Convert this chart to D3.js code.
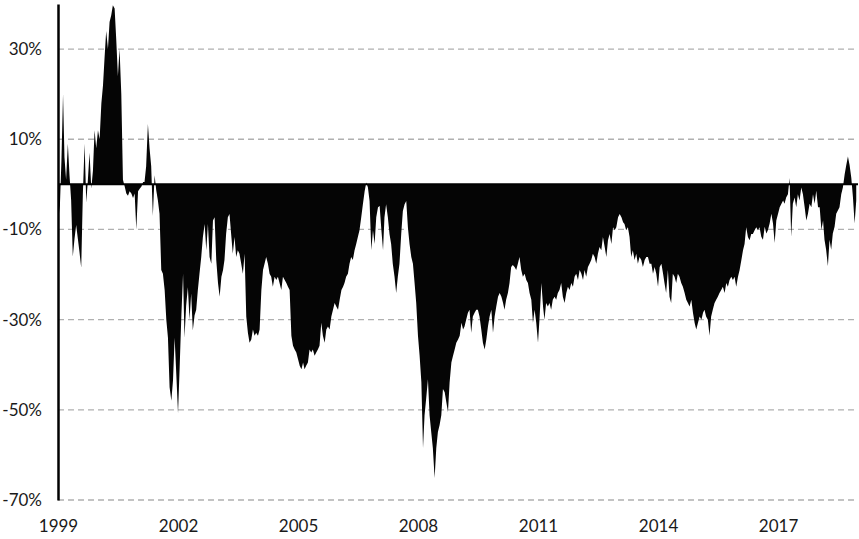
<!DOCTYPE html>
<html>
<head>
<meta charset="utf-8">
<script src="https://cdn.jsdelivr.net/npm/d3@7"></script>
<style>
  body { margin: 0; background: #fff; }
  svg { display: block; }
  text { font-family: Lato, "Open Sans", sans-serif; }
</style>
</head>
<body>
<svg id="chart" width="859" height="539"></svg>
<script>
// ---- Data (semi-monthly observations, 1st and 16th of each month, from Jan 1999) ----
const startYear = 1999;
const endYear = 2019;
const tickYears = [1999, 2002, 2005, 2008, 2011, 2014, 2017];
const yTickValues = [30, 10, -10, -30, -50, -70];
const yDomain = [-70, 40];

const values = [
  // 1999 - mid 2002
  -2, -6.4, 5, 20, 6, 1, 9, 2, -3.5, -16,
  -12, -9, -12, -15, -18.5, -2, 9, -4, 1, 7,
  -1, 3, 12, 8, 12, 10, 18, 22, 28, 34,
  30, 36, 37.5, 39.7, 39, 32, 24, 30, 20, 1,
  -0.5, -2, -2.5, -1.5, -2, -3, -2, -10, -1.5, -1,
  -0.5, 0.5, 0.5, 4, 13.4, 8, 4, -7, 2, -1.3,
  -3.5, -6.5, -19, -19.8, -23.5, -30, -34, -45, -48, -43.5,
  -34, -42, -50.8, -40.5, -28.7, -19.8, -34, -27, -22.8, -30,
  -24.2, -32.4, -29, -27.8, -23.4, -19.8,
  // 2002 - 2005
  -16.1, -11.7, -8.8, -14.6, -8.8, -16.1, -17.6, -8, -7.3, -16.8,
  -21.9, -24.9, -20.5, -19, -16.8, -11, -7.3, -6.6, -11, -15.4,
  -11.7, -16.1, -14.6, -15.4, -17.6, -19.8, -15.4, -29.3, -32.9, -35.1,
  -34.4, -32.2, -33.6, -32.9, -33.6, -32.2, -23.4, -19, -17.6, -16.1,
  -17.6, -19.8, -20.5, -22.7, -20.5, -21.2, -20.5, -21.9, -23.4, -20.5,
  -21.2, -21.9, -22.7, -23.4, -33.6, -35.8, -36.6, -37.3, -38.8, -40.2,
  -41, -39.5, -41, -40.2, -39.5, -36.6, -37.3, -36.6, -38, -37.3,
  -36.6, -35.8, -30.7, -33.6, -35.1, -32.2, -31.5, -32.2, -29.3, -27.8,
  -26.3, -27.1, -27.8,
  // 2005 - 2009
  -25.6, -23.4, -22.7, -21.9, -20.5, -19.8, -17.6, -16.1, -16.8, -14.6,
  -13.2, -11.7, -10.2, -7.3, -4.4, -1.5, 0.4, -0.7, -3.7, -14.6,
  -10.2, -13.2, -7.3, -5.1, -4.8, -10.2, -14.6, -7.3, -4.4, -7.3,
  -11, -13.2, -17.6, -20.5, -24.1, -20.5, -17.6, -11, -5.9, -4.4,
  -3.7, -9.5, -13.2, -16.1, -17.6, -21.9, -26.3, -33.6, -38, -43.9,
  -58.5, -51.2, -47.5, -43.2, -51.2, -54.9, -58.5, -65.1, -58.5, -54.9,
  -53.4, -51.2, -45.4, -46.1, -48.3, -50.5, -43.9, -39.5, -38, -36.6,
  -35.1, -34.4, -33.6, -30.7, -32.2, -31.5, -30, -28.5, -27.8, -32.9,
  -29.3, -28.5, -27.8, -27.8,
  // 2009 - 2012
  -29.3, -32.2, -35.1, -36.6, -34.4, -31.5, -29.3, -27.8, -32.9, -29.3,
  -27.1, -24.9, -24.1, -24.9, -26.3, -27.8, -25.6, -24.1, -21.9, -18.3,
  -17.9, -18.3, -19, -17.6, -16.1, -19, -20.5, -19.8, -21.2, -21.9,
  -24.1, -25.6, -30.7, -27.8, -30.7, -35.1, -29.3, -21.9, -27.1, -30,
  -26.3, -27.1, -26.3, -27.8, -25.6, -24.9, -25.6, -24.1, -23.4, -21.9,
  -24.9, -26.3, -24.1, -22.7, -23.4, -21.9, -22.7, -20.5, -19.8, -21.2,
  -19, -19.8, -21.2, -19, -20.5, -18.3, -17.6, -16.8, -15.4, -16.1,
  -17.6, -15.4, -13.9, -14.6, -11.7, -13.9, -16.1, -12.4, -11, -13.2,
  -9.5, -10.2, -9.5, -7.3,
  // 2012 - 2016
  -6.6, -7.3, -8.4, -8.8, -10.2, -9.5, -11.7, -16.1, -14.6, -16.8,
  -15.4, -17.6, -16.1, -16.8, -18.3, -16.8, -16.1, -16.1, -17.6, -17.6,
  -19.8, -18.3, -19.8, -22.7, -18.3, -17.6, -19.8, -21.9, -24.1, -19,
  -24.9, -26.3, -19.8, -20.5, -21.9, -19.8, -20.5, -21.9, -22.7, -24.1,
  -25.6, -26.3, -27.1, -25.6, -28.5, -30.7, -32.2, -30.7, -29.3, -30,
  -28.5, -27.8, -29.3, -30, -33.6, -29.3, -27.8, -26.3, -25.6, -24.9,
  -24.1, -23.4, -22.7, -24.1, -21.9, -22.7, -21.2, -20.5, -21.2, -20.5,
  -22.7, -20.5, -19, -16.8, -14.6, -13.2, -9.5, -11.7, -12.4, -11,
  -11, -10.2, -9.5, -10.2, -9.5,
  // 2016 - 2018
  -11.6, -12.3, -9.4, -10.9, -10.1, -8.7, -6.5, -8.7, -13, -8,
  -6.5, -5.1, -4.3, -3.6, -4.3, -2.9, -2.2, 1.4, -11.6, -4.3,
  -2.9, -5.1, -2.2, -3.6, -0.7, -2.2, -5.1, -8, -6.5, -4.3,
  -5.1, -2.2, -4.3, -1.4, -5.1, -5.1, -10.1, -8, -12.3, -14.5,
  -18.1, -12.3, -14.5, -10.9, -9.4, -6.5, -5.8, -5.1, -2.2, -0.7,
  2.2, 4.3, 6.2, 4.3, 1.4, -2.9, -8.7, -3.6
];

// observation dates: 1st and 16th of each month
const dates = values.map((v, i) => new Date(startYear, Math.floor(i / 2), i % 2 ? 16 : 1));

// ---- Chart ----
const W = 859, H = 539;
const margin = { left: 58, right: 1, top: 4, bottom: 39 };
const svg = d3.select('#chart');

const x = d3.scaleTime()
  .domain([new Date(startYear, 0, 1), new Date(endYear, 0, 1)])
  .range([margin.left, W - margin.right]);
const y = d3.scaleLinear()
  .domain(yDomain)
  .range([H - margin.bottom, margin.top]);

// gridlines
svg.append('g').attr('class', 'grid')
  .selectAll('line').data(yTickValues).join('line')
  .attr('x1', margin.left).attr('x2', W - margin.right)
  .attr('y1', d => y(d)).attr('y2', d => y(d))
  .attr('stroke', '#b0b0b0').attr('stroke-width', 1.3)
  .attr('stroke-dasharray', '6,4');

// area between 0 and value
const area = d3.area()
  .x((d, i) => x(dates[i]))
  .y0(y(0))
  .y1(d => y(d))
  .curve(d3.curveLinear);
svg.append('path').datum(values)
  .attr('d', area)
  .attr('fill', '#050505');

// zero line
svg.append('line')
  .attr('x1', margin.left).attr('x2', W - margin.right)
  .attr('y1', y(0)).attr('y2', y(0))
  .attr('stroke', '#000').attr('stroke-width', 2);

// y axis
const yAxis = d3.axisLeft(y)
  .tickValues(yTickValues)
  .tickSize(0)
  .tickSizeOuter(0)
  .tickPadding(16)
  .tickFormat(d => d + '%');
const gy = svg.append('g')
  .attr('transform', `translate(${margin.left},0)`)
  .call(yAxis);
gy.select('.domain').attr('stroke', '#000').attr('stroke-width', 2.5);
gy.selectAll('text').attr('font-size', 17).attr('fill', '#1a1a1a')
  .style('font-family', 'Lato, "Open Sans", sans-serif');

// x axis
const xAxis = d3.axisBottom(x)
  .tickValues(tickYears.map(yr => new Date(yr, 0, 1)))
  .tickSize(0)
  .tickPadding(20)
  .tickFormat(d3.timeFormat('%Y'));
const gx = svg.append('g')
  .attr('transform', `translate(0,${H - margin.bottom})`)
  .call(xAxis);
gx.select('.domain').remove();
gx.selectAll('text').attr('font-size', 17).attr('fill', '#1a1a1a')
  .style('font-family', 'Lato, "Open Sans", sans-serif');
</script>
</body>
</html>
